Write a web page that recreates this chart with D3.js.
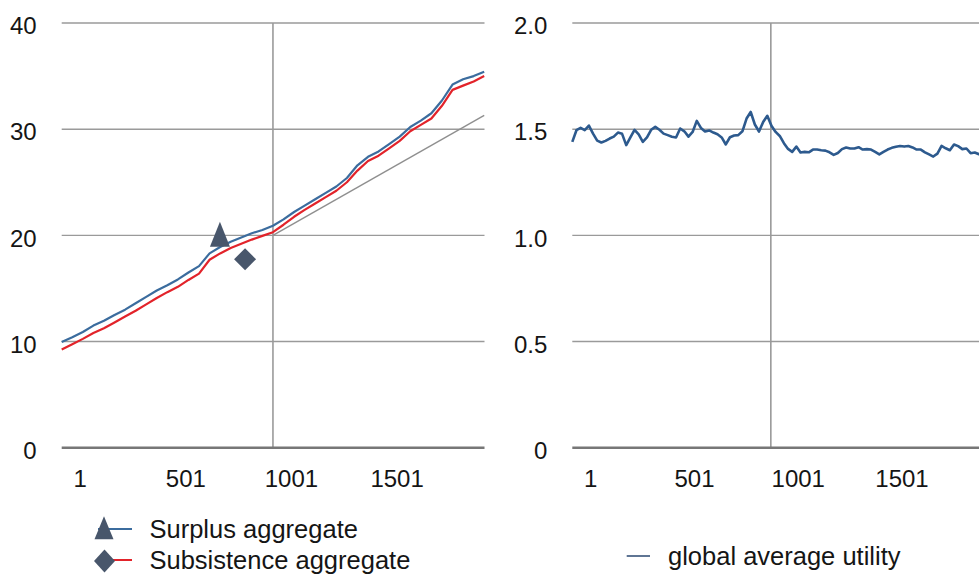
<!DOCTYPE html>
<html>
<head>
<meta charset="utf-8">
<script src="https://cdn.jsdelivr.net/npm/d3@7"></script>
<style>
  html, body { margin: 0; padding: 0; background: #fff; }
  svg { display: block; font-family: "Liberation Sans", Arial, Helvetica, sans-serif; }
</style>
</head>
<body>
<svg id="chart" width="979" height="575"></svg>
<script>
// ---- data -------------------------------------------------------------
// aggregate series sampled every 50 steps, starting at step 1
const aggStep = 50;
const surplusAggregate = [
  9.95, 10.4, 10.9, 11.5, 11.95, 12.5, 13.0, 13.6, 14.2, 14.8,
  15.3, 15.85, 16.5, 17.1, 18.3, 18.9, 19.4, 19.8, 20.2, 20.5,
  20.9, 21.5, 22.2, 22.8, 23.4, 24.0, 24.6, 25.4, 26.6, 27.4,
  27.9, 28.6, 29.3, 30.2, 30.8, 31.5, 32.7, 34.2, 34.7, 35.0, 35.4
];
const subsistenceAggregate = [
  9.25, 9.75, 10.25, 10.8, 11.25, 11.8, 12.35, 12.9, 13.5, 14.1,
  14.65, 15.15, 15.8, 16.4, 17.7, 18.3, 18.8, 19.2, 19.6, 19.95,
  20.3, 21.0, 21.75, 22.4, 23.0, 23.6, 24.2, 25.0, 26.1, 27.0,
  27.5, 28.2, 28.9, 29.8, 30.4, 31.0, 32.2, 33.7, 34.1, 34.5, 35.0
];
// linear trend of the first phase, continued past the shock
const trendLine = [{ x: 1001, y: 20.0 }, { x: 2001, y: 31.3 }];
// single highlighted points of each aggregate
const surplusMarker = { x: 750, y: 19.7 };
const subsistenceMarker = { x: 869, y: 17.75 };

// global average utility sampled every 20 steps, starting at step 1
const utilStep = 20;
const globalAverageUtility = [
  1.440, 1.495, 1.506, 1.495, 1.517, 1.479, 1.446, 1.437, 1.445, 1.456,
  1.465, 1.484, 1.478, 1.425, 1.461, 1.497, 1.475, 1.440, 1.461, 1.497,
  1.511, 1.497, 1.479, 1.472, 1.464, 1.461, 1.503, 1.490, 1.465, 1.487,
  1.539, 1.506, 1.489, 1.494, 1.484, 1.476, 1.461, 1.428, 1.462, 1.470,
  1.472, 1.490, 1.550, 1.581, 1.522, 1.489, 1.534, 1.563, 1.516, 1.487,
  1.468, 1.434, 1.407, 1.393, 1.418, 1.390, 1.393, 1.391, 1.404, 1.404,
  1.401, 1.399, 1.391, 1.379, 1.388, 1.406, 1.414, 1.409, 1.409, 1.415,
  1.404, 1.406, 1.404, 1.393, 1.381, 1.393, 1.404, 1.412, 1.417, 1.421,
  1.418, 1.421, 1.414, 1.404, 1.404, 1.391, 1.381, 1.371, 1.385, 1.421,
  1.410, 1.401, 1.428, 1.420, 1.406, 1.409, 1.387, 1.390, 1.382, 1.390
];

// axes
const xTickValues = [1, 501, 1001, 1501];
const leftYTicks = [0, 10, 20, 30, 40];
const leftYLabels = ["0", "10", "20", "30", "40"];
const rightYTicks = [0, 0.5, 1.0, 1.5, 2.0];
const rightYLabels = ["0", "0.5", "1.0", "1.5", "2.0"];
const leftShockStep = 1001;
const rightShockStep = 958;

// legend
const leftLegend = ["Surplus aggregate", "Subsistence aggregate"];
const rightLegend = ["global average utility"];

// ---- styling -----------------------------------------------------------
const C = {
  text: "#151515",
  grid: "#9a9a9a",
  axis: "#777777",
  surplus: "#3b6c9e",
  subsistence: "#e2232a",
  trend: "#8f8f8f",
  marker: "#48566b",
  utility: "#2d5a8e",
  utilityLegend: "#5f7594"
};
const tickFont = 24;
const legendFont = 25.5;

const svg = d3.select("#chart");

// ---- helpers -----------------------------------------------------------
function drawPanel(opts) {
  const g = svg.append("g");
  const { x, y, yTicks, yLabels, shock, xEnd } = opts;

  // horizontal gridlines (not the baseline)
  g.selectAll("line.hgrid")
    .data(yTicks.filter(v => v !== 0))
    .join("line")
    .attr("class", "hgrid")
    .attr("x1", x.range()[0]).attr("x2", xEnd)
    .attr("y1", d => y(d)).attr("y2", d => y(d))
    .attr("stroke", C.grid).attr("stroke-width", 1.4);

  // vertical shock line
  g.append("line")
    .attr("x1", x(shock)).attr("x2", x(shock))
    .attr("y1", y(yTicks[yTicks.length - 1])).attr("y2", y(0))
    .attr("stroke", C.grid).attr("stroke-width", 1.6);

  // baseline
  g.append("line")
    .attr("x1", x.range()[0]).attr("x2", xEnd)
    .attr("y1", y(0)).attr("y2", y(0))
    .attr("stroke", C.axis).attr("stroke-width", 2.4);

  // y axis labels
  const yAxis = d3.axisLeft(y)
    .tickValues(yTicks)
    .tickFormat((d, i) => yLabels[i])
    .tickSize(0)
    .tickPadding(25);
  const ya = g.append("g")
    .attr("transform", `translate(${x.range()[0]},0)`)
    .call(yAxis);
  ya.select(".domain").remove();
  ya.selectAll("text")
    .attr("dy", "0.45em")
    .attr("fill", C.text)
    .style("font-size", tickFont + "px");

  // x axis labels
  const xAxis = d3.axisBottom(x)
    .tickValues(xTickValues)
    .tickFormat(d3.format("d"))
    .tickSize(0)
    .tickPadding(22);
  const xa = g.append("g")
    .attr("transform", `translate(0,${y(0)})`)
    .call(xAxis);
  xa.select(".domain").remove();
  xa.selectAll("text")
    .attr("x", 18)
    .attr("fill", C.text)
    .style("font-size", tickFont + "px");
  return g;
}

function trianglePath(cx, cy, w, h) {
  return `M${cx},${cy - h * 2 / 3}L${cx + w / 2},${cy + h / 3}L${cx - w / 2},${cy + h / 3}Z`;
}
function diamondPath(cx, cy, w, h) {
  return `M${cx},${cy - h / 2}L${cx + w / 2},${cy}L${cx},${cy + h / 2}L${cx - w / 2},${cy}Z`;
}

// ---- left panel: aggregates ---------------------------------------------
const xL = d3.scaleLinear().domain([1, 2001]).range([61.7, 484.2]);
const yL = d3.scaleLinear().domain([0, 40]).range([447.7, 23]);
drawPanel({ x: xL, y: yL, yTicks: leftYTicks, yLabels: leftYLabels, shock: leftShockStep, xEnd: 484.5 });

const aggLine = d3.line()
  .x((d, i) => xL(1 + i * aggStep))
  .y(d => yL(d));

svg.append("path")
  .datum(trendLine)
  .attr("d", d3.line().x(d => xL(d.x)).y(d => yL(d.y)))
  .attr("fill", "none").attr("stroke", C.trend).attr("stroke-width", 1.4);

svg.append("path")
  .datum(surplusAggregate)
  .attr("d", aggLine)
  .attr("fill", "none").attr("stroke", C.surplus).attr("stroke-width", 2.2)
  .attr("stroke-linejoin", "round");

svg.append("path")
  .datum(subsistenceAggregate)
  .attr("d", aggLine)
  .attr("fill", "none").attr("stroke", C.subsistence).attr("stroke-width", 2.2)
  .attr("stroke-linejoin", "round");

svg.append("path")
  .attr("d", trianglePath(xL(surplusMarker.x), yL(surplusMarker.y), 20, 25))
  .attr("fill", C.marker);
svg.append("path")
  .attr("d", diamondPath(xL(subsistenceMarker.x), yL(subsistenceMarker.y), 22, 22))
  .attr("fill", C.marker);

// left legend
const lg = svg.append("g");
lg.append("line").attr("x1", 98).attr("x2", 132).attr("y1", 529).attr("y2", 529)
  .attr("stroke", C.surplus).attr("stroke-width", 2);
lg.append("path").attr("d", trianglePath(104, 531.5, 19, 23)).attr("fill", C.marker);
lg.append("line").attr("x1", 98).attr("x2", 132).attr("y1", 560).attr("y2", 560)
  .attr("stroke", C.subsistence).attr("stroke-width", 2);
lg.append("path").attr("d", diamondPath(104.5, 561, 21, 23)).attr("fill", C.marker);
lg.selectAll("text")
  .data(leftLegend)
  .join("text")
  .attr("x", 149.5)
  .attr("y", (d, i) => 538.3 + i * 30.2)
  .attr("fill", C.text)
  .style("font-size", legendFont + "px")
  .text(d => d);

// ---- right panel: global average utility --------------------------------
const xR = d3.scaleLinear().domain([1, 2001]).range([572.3, 987.2]);
const yR = d3.scaleLinear().domain([0, 2]).range([447.7, 23]);
drawPanel({ x: xR, y: yR, yTicks: rightYTicks, yLabels: rightYLabels, shock: rightShockStep, xEnd: 990 });

svg.append("path")
  .datum(globalAverageUtility)
  .attr("d", d3.line().x((d, i) => xR(1 + i * utilStep)).y(d => yR(d)))
  .attr("fill", "none").attr("stroke", C.utility).attr("stroke-width", 2.6)
  .attr("stroke-linejoin", "round");

// right legend
const rg = svg.append("g");
rg.append("line").attr("x1", 626.7).attr("x2", 650).attr("y1", 556).attr("y2", 556)
  .attr("stroke", C.utilityLegend).attr("stroke-width", 2);
rg.selectAll("text")
  .data(rightLegend)
  .join("text")
  .attr("x", 668)
  .attr("y", 565)
  .attr("fill", C.text)
  .style("font-size", legendFont + "px")
  .text(d => d);
</script>
</body>
</html>
